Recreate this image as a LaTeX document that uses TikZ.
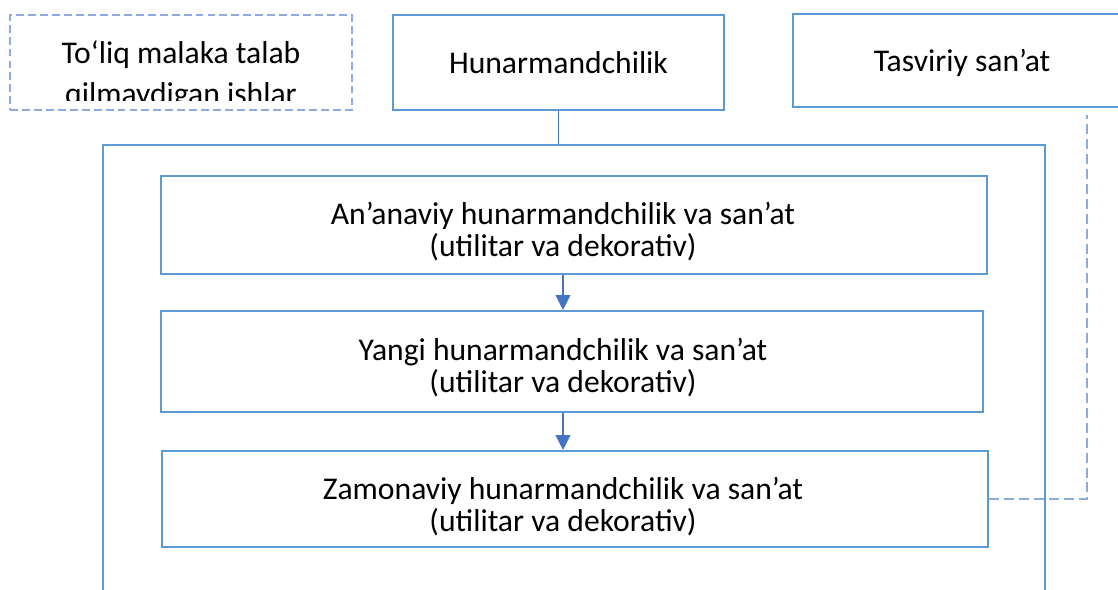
\documentclass[tikz,border=0pt]{standalone}
\usepackage{fontspec}
\setmainfont{Carlito}
\usetikzlibrary{arrows.meta, positioning}
\definecolor{boxblue}{HTML}{5B9BD5}
\definecolor{arrowblue}{HTML}{4472C4}
\definecolor{dashblue}{HTML}{8FAADC}
\tikzset{
  box/.style={draw=boxblue, line width=1.2pt, inner sep=0pt, text depth=0pt, font=\fontsize{18pt}{18.2pt}\selectfont},
  boxtext/.style={align=center, inner sep=0pt, font=\fontsize{18pt}{18.2pt}\selectfont},
  link/.style={arrowblue, line width=0.6pt},
  dashlink/.style={dashblue, line width=0.9pt, dash pattern=on 5.7pt off 2.8pt}
}

\begin{document}
\begin{tikzpicture}[x=0.02cm, y=-0.02cm]
			\path [use as bounding box, clip] (0,0) rectangle (1118,590);

			\node [box, draw=dashblue, line width=1.1pt, dash pattern=on 4.5pt off 2.3pt, minimum width=6.84cm, minimum height=1.9cm] (tolq) at (181,62.5) {};
			\begin{scope}
				\clip (10,15) rectangle (352,101);
				\node [boxtext, font=\fontsize{18pt}{23.3pt}\selectfont] (tolqtext) at (181,75) {To‘liq malaka talab\\qilmaydigan ishlar};
			\end{scope}
			\node [box, minimum width=6.62cm, minimum height=1.9cm] (hunar) at (558.5,62.5) {Hunarmandchilik};
			\node [box, minimum width=6.76cm, minimum height=1.86cm] (tasv) at (962,60.5) {Tasviriy san’at};

			\node [box, minimum width=18.84cm, minimum height=9.1cm] (frame) at (574,372.5) {};
			\node [box, minimum width=16.52cm, minimum height=1.96cm] (b1) at (574,225) {};
			\node [box, minimum width=16.44cm, minimum height=2.02cm] (b2) at (572,361.5) {};
			\node [box, minimum width=16.52cm, minimum height=1.92cm] (b3) at (575,499) {};

			\node [boxtext] (t1) at (563,232) {An’anaviy hunarmandchilik va san’at\\(utilitar va dekorativ)};
			\node [boxtext] (t2) at (563,368) {Yangi hunarmandchilik va san’at\\(utilitar va dekorativ)};
			\node [boxtext] (t3) at (563,506.5) {Zamonaviy hunarmandchilik va san’at\\(utilitar va dekorativ)};

			\draw [link] (hunar.south) to (hunar.south |- frame.north);
			\draw [link, -{Triangle[length=8.5pt,width=8.5pt]}] (t1 |- b1.south) to (t1 |- b2.north);
			\draw [link, -{Triangle[length=8.5pt,width=8.5pt]}] (t2 |- b2.south) to (t2 |- b3.north);

			\coordinate (tasvend) at (1087,115);
			\draw [dashlink] (b3.east) -| (tasvend);
		\end{tikzpicture}
\end{document}
